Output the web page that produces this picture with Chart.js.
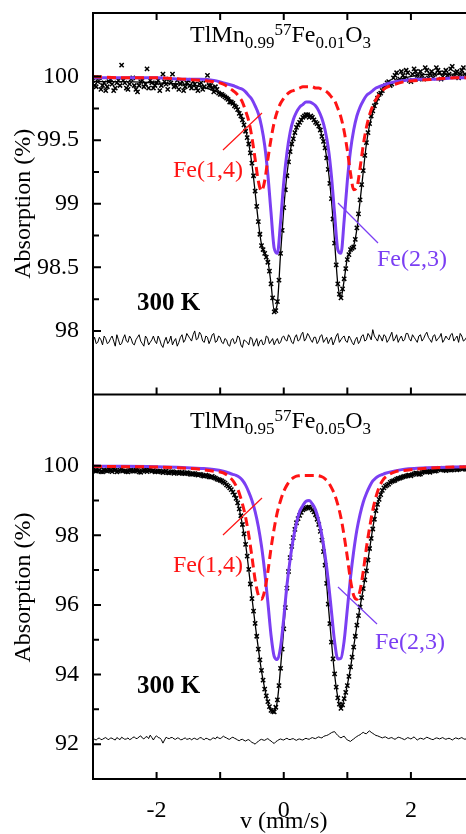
<!DOCTYPE html>
<html>
<head>
<meta charset="utf-8">
<title>TlMn1-x 57Fex O3 Mossbauer spectra</title>
<script src="https://cdn.jsdelivr.net/npm/chart.js@4.4.1/dist/chart.umd.min.js"></script>
<style>
  html, body { margin: 0; padding: 0; background: #fff; overflow: hidden; }
  #wrap { position: relative; width: 466px; height: 834px; overflow: hidden; }
  canvas { position: absolute; left: 0; }
  #topChart { top: 0; }
  #bottomChart { top: 390px; }
</style>
</head>
<body>
<div id="wrap">
  <canvas id="topChart" width="480" height="400"></canvas>
  <canvas id="bottomChart" width="480" height="444"></canvas>
</div>
<script>
// velocity channels (mm/s): main channels and the in-between ones
const channelV = [-3,-2.95,-2.9,-2.85,-2.8,-2.75,-2.7,-2.65,-2.6,-2.55,-2.5,-2.45,-2.4,-2.35,-2.3,-2.25,-2.2,-2.15,-2.1,-2.05,
  -2,-1.95,-1.9,-1.85,-1.8,-1.75,-1.7,-1.65,-1.6,-1.55,-1.5,-1.45,-1.4,-1.35,-1.3,-1.25,-1.2,-1.15,-1.1,-1.05,
  -1,-0.95,-0.9,-0.85,-0.8,-0.75,-0.7,-0.65,-0.6,-0.55,-0.5,-0.45,-0.4,-0.35,-0.3,-0.25,-0.2,-0.15,-0.1,-0.05,
  0,0.05,0.1,0.15,0.2,0.25,0.3,0.35,0.4,0.45,0.5,0.55,0.6,0.65,0.7,0.75,0.8,0.85,0.9,0.95,
  1,1.05,1.1,1.15,1.2,1.25,1.3,1.35,1.4,1.45,1.5,1.55,1.6,1.65,1.7,1.75,1.8,1.85,1.9,1.95,
  2,2.05,2.1,2.15,2.2,2.25,2.3,2.35,2.4,2.45,2.5,2.55,2.6,2.65,2.7,2.75,2.8,2.85,2.9,2.95,
  3];
const channelV2 = [-2.975,-2.925,-2.875,-2.825,-2.775,-2.725,-2.675,-2.625,-2.575,-2.525,-2.475,-2.425,-2.375,-2.325,-2.275,-2.225,-2.175,-2.125,-2.075,-2.025,
  -1.975,-1.925,-1.875,-1.825,-1.775,-1.725,-1.675,-1.625,-1.575,-1.525,-1.475,-1.425,-1.375,-1.325,-1.275,-1.225,-1.175,-1.125,-1.075,-1.025,
  -0.975,-0.925,-0.875,-0.825,-0.775,-0.725,-0.675,-0.625,-0.575,-0.525,-0.475,-0.425,-0.375,-0.325,-0.275,-0.225,-0.175,-0.125,-0.075,-0.025,
  0.025,0.075,0.125,0.175,0.225,0.275,0.325,0.375,0.425,0.475,0.525,0.575,0.625,0.675,0.725,0.775,0.825,0.875,0.925,0.975,
  1.025,1.075,1.125,1.175,1.225,1.275,1.325,1.375,1.425,1.475,1.525,1.575,1.625,1.675,1.725,1.775,1.825,1.875,1.925,1.975,
  2.025,2.075,2.125,2.175,2.225,2.275,2.325,2.375,2.425,2.475,2.525,2.575,2.625,2.675,2.725,2.775,2.825,2.875,2.925,2.975];

// velocities where the fitted curves were read
const curveV = [-3,-2.5,-2,-1.6,-1.3,-1.1,-0.95,
  -0.8,-0.75,-0.7,-0.65,-0.6,-0.55,-0.5,-0.45,-0.4,-0.35,-0.3,-0.25,-0.2,-0.15,-0.1,-0.05,
  0,0.05,0.1,0.15,0.2,0.25,0.3,0.35,0.4,0.45,0.5,0.55,0.6,0.65,0.7,0.75,0.8,0.85,0.9,0.95,
  1,1.05,1.1,1.15,1.2,1.25,1.3,1.35,1.4,1.45,1.5,1.55,1.6,
  1.75,1.9,2.1,2.4,2.7,3];

// ---- x = 0.01 (top panel) ----
const topData = [99.97,99.92,99.99,99.93,99.89,99.96,99.94,99.91,99.97,100.09,99.95,99.90,99.98,99.93,99.88,99.96,99.92,100.06,99.97,99.91,
  99.95,99.89,100.02,99.94,99.98,100.02,99.93,99.90,99.96,99.92,99.97,99.91,99.94,99.89,99.95,99.92,100.01,99.93,99.88,99.90,
  99.86,99.85,99.83,99.80,99.79,99.76,99.71,99.66,99.57,99.47,99.32,99.10,98.86,98.67,98.61,98.54,98.37,98.15,98.23,98.61,
  98.97,99.22,99.41,99.51,99.60,99.64,99.68,99.70,99.68,99.68,99.64,99.61,99.53,99.44,99.27,99.04,98.69,98.37,98.26,98.41,
  98.56,98.64,98.66,98.81,99.03,99.26,99.48,99.63,99.73,99.80,99.86,99.89,99.93,99.96,99.94,100.01,99.97,100.04,99.99,100.03,
  99.96,100.06,100.01,100.04,99.98,100.05,100.02,99.99,100.07,100.03,100.00,100.05,100.02,100.08,100.03,99.99,100.05,100.02,100.06,100.01,
  100.04];
const topData2 = [99.93,99.96,99.90,99.95,99.92,99.98,99.89,99.95,99.93,99.97,99.91,99.94,99.99,99.90,99.93,99.97,99.94,99.91,99.95,99.93,
  99.97,99.93,99.96,99.90,99.95,99.92,99.97,99.94,99.89,99.95,99.93,99.96,99.91,99.94,99.90,99.97,99.93,99.91,99.92,99.87,
  99.86,99.84,99.82,99.80,99.77,99.74,99.69,99.62,99.52,99.40,99.22,98.98,98.76,98.64,98.58,98.47,98.26,98.16,98.40,98.79,
  99.11,99.33,99.47,99.56,99.62,99.66,99.69,99.70,99.69,99.66,99.63,99.58,99.49,99.36,99.16,98.88,98.52,98.29,98.33,98.49,
  98.60,98.65,98.72,98.92,99.15,99.38,99.56,99.69,99.77,99.83,99.87,99.92,99.95,99.93,99.99,100.03,99.98,100.01,100.05,99.97,
  100.02,100.04,99.98,100.01,100.07,99.99,100.04,100.02,100.05,99.98,100.03,100.01,100.06,100.00,100.04,100.02,100.07,100.01,100.03,100.05];
const topResidual = [97.92,97.90,97.95,97.89,97.94,97.91,97.96,97.88,97.93,97.90,97.97,97.91,97.94,97.89,97.95,97.92,97.88,97.94,97.91,97.96,
  97.90,97.93,97.87,97.95,97.92,97.89,97.94,97.91,97.97,97.93,97.96,97.92,98.00,97.94,97.97,97.91,97.95,97.93,97.98,97.92,
  97.95,97.90,97.93,97.88,97.94,97.91,97.95,97.87,97.92,97.89,97.94,97.91,97.88,97.93,97.90,97.95,97.92,97.89,97.94,97.91,
  97.96,97.92,97.95,97.90,97.97,97.93,97.99,97.94,97.96,97.91,97.95,97.92,97.97,97.93,97.90,97.95,97.92,97.98,97.93,97.96,
  97.91,97.94,97.89,97.95,97.92,97.97,97.93,97.96,98.01,97.94,97.97,97.92,97.96,97.93,97.99,97.94,97.91,97.96,97.93,97.98,
  97.92,97.95,97.91,97.97,97.94,97.99,97.93,97.96,97.92,97.95,97.91,97.96,97.93,97.98,97.94,97.91,97.96,97.93,97.97,97.94,
  97.95];
const topResidual2 = [97.95,97.91,97.93,97.96,97.90,97.94,97.92,97.97,97.89,97.94,97.92,97.96,97.90,97.93,97.97,97.90,97.96,97.89,97.93,97.92,
  97.96,97.89,97.92,97.90,97.96,97.92,97.88,97.95,97.91,97.98,97.94,97.97,97.93,97.99,97.92,97.96,97.90,97.97,97.91,97.96,
  97.91,97.94,97.89,97.93,97.90,97.96,97.89,97.93,97.91,97.95,97.88,97.94,97.92,97.89,97.96,97.90,97.94,97.92,97.90,97.95,
  97.93,97.97,97.91,97.95,97.92,97.97,97.92,97.98,97.93,97.95,97.90,97.96,97.91,97.95,97.93,97.89,97.96,97.91,97.95,97.92,
  97.96,97.91,97.93,97.90,97.96,97.92,97.98,97.93,97.96,97.92,97.95,97.97,97.91,97.96,97.92,97.97,97.94,97.92,97.98,97.94,
  97.97,97.93,97.96,97.92,97.97,97.95,97.91,97.97,97.94,97.98,97.93,97.94,97.97,97.92,97.96,97.98,97.92,97.95,97.93,97.96];
const topFit = [99.96,99.96,99.95,99.94,99.92,99.89,99.86,
  99.80,99.77,99.72,99.66,99.58,99.47,99.31,99.09,98.86,98.68,98.61,98.55,98.37,98.16,98.22,98.61,
  98.96,99.23,99.41,99.52,99.59,99.64,99.67,99.69,99.69,99.68,99.65,99.61,99.54,99.44,99.27,99.03,98.70,98.37,98.26,98.40,
  98.57,98.63,98.67,98.80,99.02,99.25,99.47,99.62,99.72,99.79,99.84,99.88,99.91,
  99.96,99.99,100.01,100.02,100.02,100.02];
const topFe23 = [99.99,99.99,99.99,99.98,99.98,99.97,99.95,
  99.93,99.92,99.91,99.90,99.88,99.85,99.82,99.77,99.71,99.61,99.46,99.23,98.93,98.65,98.61,98.86,
  99.17,99.40,99.56,99.66,99.72,99.76,99.78,99.80,99.80,99.79,99.77,99.73,99.67,99.58,99.44,99.22,98.92,98.64,98.61,98.87,
  99.18,99.42,99.58,99.69,99.76,99.81,99.85,99.87,99.89,99.91,99.92,99.93,99.94,
  99.96,99.97,99.98,99.98,99.99,99.99];
const topFe14 = [100.00,99.99,99.99,99.98,99.97,99.96,99.94,
  99.89,99.87,99.84,99.80,99.73,99.65,99.52,99.35,99.18,99.10,99.18,99.35,99.51,99.64,99.73,99.79,
  99.83,99.86,99.88,99.89,99.90,99.91,99.92,99.92,99.92,99.92,99.91,99.91,99.90,99.89,99.87,99.84,99.81,99.75,99.68,99.57,
  99.42,99.24,99.11,99.13,99.28,99.46,99.60,99.70,99.77,99.82,99.86,99.89,99.91,
  99.94,99.96,99.97,99.98,99.99,99.99];

// ---- x = 0.05 (bottom panel) ----
const botData = [99.88,99.84,99.87,99.82,99.86,99.89,99.83,99.87,99.84,99.90,99.85,99.82,99.88,99.84,99.86,99.81,99.87,99.83,99.92,99.86,
  99.83,99.85,99.80,99.84,99.79,99.83,99.80,99.78,99.81,99.77,99.79,99.75,99.77,99.73,99.74,99.70,99.71,99.67,99.66,99.61,
  99.58,99.53,99.45,99.36,99.24,99.06,98.76,98.31,97.74,97.02,96.18,95.47,94.73,94.12,93.58,93.22,92.97,92.93,93.27,94.18,
  95.31,96.48,97.36,97.93,98.36,98.57,98.73,98.78,98.81,98.73,98.59,98.31,97.86,97.14,96.02,94.93,94.02,93.33,93.03,93.31,
  93.68,94.22,94.79,95.42,95.94,96.47,96.98,97.62,98.18,98.71,99.03,99.29,99.41,99.47,99.55,99.58,99.63,99.66,99.69,99.72,
  99.71,99.76,99.78,99.76,99.82,99.84,99.81,99.86,99.85,99.92,99.88,99.86,99.90,99.88,99.91,99.89,99.93,99.90,99.92,99.94,
  99.92];
const botData2 = [99.86,99.85,99.83,99.88,99.84,99.86,99.89,99.82,99.87,99.85,99.83,99.86,99.84,99.88,99.82,99.85,99.86,99.89,99.84,99.82,
  99.84,99.82,99.83,99.80,99.82,99.78,99.81,99.79,99.78,99.80,99.76,99.77,99.74,99.75,99.71,99.73,99.68,99.69,99.64,99.60,
  99.56,99.50,99.41,99.31,99.16,98.93,98.56,98.04,97.40,96.60,95.82,95.10,94.42,93.84,93.39,93.08,92.94,93.06,93.68,94.73,
  95.92,96.96,97.68,98.17,98.48,98.66,98.76,98.80,98.78,98.67,98.46,98.11,97.53,96.62,95.46,94.45,93.64,93.15,93.13,93.49,
  93.95,94.50,95.10,95.69,96.21,96.72,97.29,97.91,98.46,98.89,99.17,99.36,99.44,99.52,99.56,99.61,99.64,99.68,99.70,99.73,
  99.74,99.79,99.75,99.80,99.83,99.82,99.85,99.84,99.88,99.90,99.87,99.89,99.87,99.92,99.88,99.91,99.92,99.89,99.93,99.91];
const botResidual = [92.16,92.12,92.18,92.14,92.19,92.13,92.17,92.12,92.16,92.20,92.14,92.18,92.15,92.21,92.17,92.24,92.15,92.22,92.26,92.12,
  92.24,92.18,92.03,92.20,92.16,92.19,92.14,92.17,92.13,92.18,92.15,92.12,92.17,92.14,92.19,92.13,92.16,92.12,92.18,92.21,
  92.16,92.23,92.18,92.14,92.20,92.15,92.10,92.14,92.09,92.13,92.05,92.00,92.08,92.14,92.11,92.16,92.09,92.02,92.10,92.15,
  92.12,92.17,92.13,92.16,92.11,92.15,92.12,92.17,92.14,92.19,92.16,92.21,92.18,92.24,92.27,92.33,92.36,92.25,92.18,92.23,
  92.12,92.08,92.15,92.22,92.27,92.34,92.30,92.38,92.31,92.25,92.22,92.18,92.21,92.16,92.19,92.14,92.20,92.17,92.13,92.19,
  92.15,92.21,92.12,92.17,92.14,92.20,92.16,92.13,92.18,92.15,92.19,92.14,92.17,92.12,92.18,92.15,92.19,92.14,92.17,92.13,
  92.16];
const botResidual2 = [92.14,92.16,92.13,92.17,92.15,92.18,92.14,92.19,92.13,92.17,92.15,92.13,92.19,92.16,92.21,92.18,92.20,92.16,92.19,92.20,
  92.19,92.13,92.12,92.17,92.19,92.15,92.18,92.13,92.16,92.14,92.17,92.16,92.14,92.18,92.15,92.17,92.13,92.17,92.15,92.18,
  92.19,92.20,92.15,92.18,92.17,92.12,92.13,92.11,92.12,92.09,92.03,92.05,92.12,92.12,92.14,92.12,92.05,92.07,92.13,92.13,
  92.15,92.14,92.15,92.13,92.14,92.13,92.15,92.15,92.17,92.17,92.19,92.19,92.22,92.25,92.30,92.35,92.30,92.21,92.21,92.17,
  92.10,92.12,92.19,92.25,92.31,92.31,92.35,92.34,92.28,92.24,92.20,92.20,92.18,92.18,92.16,92.17,92.19,92.15,92.16,92.17,
  92.18,92.16,92.15,92.16,92.17,92.18,92.14,92.16,92.17,92.17,92.16,92.16,92.15,92.15,92.17,92.17,92.16,92.16,92.15,92.15];
const botFit = [99.86,99.85,99.83,99.80,99.74,99.66,99.54,
  99.25,99.05,98.75,98.30,97.75,97.00,96.20,95.45,94.75,94.10,93.60,93.20,92.98,92.95,93.25,94.20,
  95.30,96.50,97.35,97.95,98.35,98.58,98.72,98.79,98.80,98.74,98.58,98.32,97.85,97.15,96.00,94.95,94.00,93.35,93.05,93.30,
  93.70,94.20,94.80,95.40,95.95,96.45,97.00,97.60,98.20,98.70,99.05,99.28,99.42,
  99.60,99.70,99.78,99.86,99.90,99.93];
const botFe23 = [99.98,99.98,99.97,99.95,99.92,99.89,99.84,
  99.75,99.72,99.67,99.58,99.44,99.24,99.00,98.68,98.25,97.69,96.96,96.08,95.13,94.52,94.43,94.79,
  95.62,96.56,97.30,97.90,98.34,98.68,98.85,98.98,99.00,98.90,98.73,98.42,98.00,97.43,96.70,95.82,94.94,94.45,94.47,94.97,
  95.88,96.79,97.54,98.15,98.60,98.95,99.20,99.40,99.56,99.65,99.71,99.745,99.78,
  99.85,99.90,99.925,99.95,99.96,99.97];
const botFe14 = [99.98,99.97,99.96,99.93,99.89,99.84,99.79,
  99.57,99.42,99.21,98.90,98.52,98.00,97.38,96.72,96.28,96.16,96.41,96.95,97.63,98.20,98.67,99.00,
  99.26,99.44,99.57,99.65,99.70,99.71,99.72,99.72,99.72,99.72,99.72,99.71,99.68,99.62,99.52,99.37,99.17,98.88,98.50,97.98,
  97.37,96.71,96.27,96.16,96.42,96.96,97.64,98.22,98.72,99.10,99.38,99.56,99.67,
  99.82,99.86,99.90,99.94,99.96,99.97];

// ticks
const xTicks = [-2, -1, 0, 1, 2, 3];
const xTickLabels = [-2, 0, 2];
const topYTickLabels = [98, 98.5, 99, 99.5, 100];
const topYMinor = [98.25, 98.75, 99.25, 99.75];
const botYTickLabels = [92, 94, 96, 98, 100];
const botYMinor = [93, 95, 97, 99];

const SERIF = "'Liberation Serif', 'Times New Roman', serif";
const RED = '#ff1414';
const PURPLE = '#7b3ff3';

Chart.defaults.font.family = SERIF;
Chart.defaults.color = '#000';

function pts(xs, ys) {
  return xs.map((x, i) => ({ x, y: ys[i] }));
}

// main + in-between channels, in velocity order
function interleave(ys, ys2) {
  const out = [];
  channelV.forEach((x, i) => {
    out.push({ x, y: ys[i] });
    if (i < channelV2.length) out.push({ x: channelV2[i], y: ys2[i] });
  });
  return out;
}

function panelDatasets(s) {
  return [
    { label: 'Fe(1,4)', data: pts(curveV, s.fe14), showLine: true, borderColor: RED, borderWidth: 3,
      borderDash: [9, 5], pointRadius: 0, cubicInterpolationMode: 'monotone', order: 0 },
    { label: 'Fe(2,3)', data: pts(curveV, s.fe23), showLine: true, borderColor: PURPLE, borderWidth: 3,
      pointRadius: 0, cubicInterpolationMode: 'monotone', order: 1 },
    { label: 'fit', data: pts(curveV, s.fit), showLine: true, borderColor: '#000', borderWidth: 1.3,
      pointRadius: 0, cubicInterpolationMode: 'monotone', order: 2 },
    { label: 'data', data: interleave(s.data, s.data2), showLine: false, pointStyle: 'crossRot', pointRadius: 3,
      pointBorderWidth: 1.5, pointBorderColor: '#000', pointBackgroundColor: '#000', order: 3 },
    { label: 'residual', data: interleave(s.resid, s.resid2), showLine: true, borderColor: '#000', borderWidth: 1,
      pointRadius: 0, tension: 0, order: 4 }
  ];
}

// chemical formula with sub/superscripts
function drawChem(ctx, x, y, parts) {
  parts.forEach(([txt, kind]) => {
    ctx.font = (kind === 'n' ? '24px ' : '17px ') + SERIF;
    const dy = kind === 'sub' ? 6 : kind === 'sup' ? -7 : 0;
    ctx.fillText(txt, x, y + dy);
    x += ctx.measureText(txt).width;
  });
}

// frame, inward ticks and panel labels
const panelDecor = {
  id: 'panelDecor',
  afterDraw(chart, args, o) {
    const { ctx, chartArea: a, scales: { x, y } } = chart;
    ctx.save();
    ctx.strokeStyle = '#000';
    ctx.lineWidth = 2;
    ctx.beginPath();
    ctx.moveTo(a.left, a.top - 1); ctx.lineTo(a.left, a.bottom + 1);
    if (o.frameTop) { ctx.moveTo(a.left, a.top); ctx.lineTo(a.right, a.top); }
    ctx.moveTo(a.left, a.bottom); ctx.lineTo(a.right, a.bottom);
    ctx.moveTo(a.right, a.top); ctx.lineTo(a.right, a.bottom);
    xTicks.forEach(v => {
      const px = x.getPixelForValue(v);
      if (o.ticksTop) { ctx.moveTo(px, a.top); ctx.lineTo(px, a.top + 7); }
      ctx.moveTo(px, a.bottom); ctx.lineTo(px, a.bottom - 7);
    });
    o.yMajor.forEach(v => {
      const py = y.getPixelForValue(v);
      ctx.moveTo(a.left, py); ctx.lineTo(a.left + 8, py);
    });
    o.yMinor.forEach(v => {
      const py = y.getPixelForValue(v);
      ctx.moveTo(a.left, py); ctx.lineTo(a.left + 6, py);
    });
    ctx.stroke();

    ctx.textBaseline = 'alphabetic';
    ctx.textAlign = 'left';
    ctx.fillStyle = '#000';
    drawChem(ctx, o.title.x, o.title.y, o.title.parts);

    ctx.font = 'bold 25px ' + SERIF;
    ctx.fillText('300 K', o.temp.x, o.temp.y);

    ctx.font = '24px ' + SERIF;
    ctx.fillStyle = RED;
    ctx.fillText('Fe(1,4)', o.fe14.x, o.fe14.y);
    ctx.fillStyle = PURPLE;
    ctx.fillText('Fe(2,3)', o.fe23.x, o.fe23.y);

    ctx.lineWidth = 1.2;
    ctx.strokeStyle = RED;
    ctx.beginPath();
    ctx.moveTo(o.fe14.line[0], o.fe14.line[1]); ctx.lineTo(o.fe14.line[2], o.fe14.line[3]);
    ctx.stroke();
    ctx.strokeStyle = PURPLE;
    ctx.beginPath();
    ctx.moveTo(o.fe23.line[0], o.fe23.line[1]); ctx.lineTo(o.fe23.line[2], o.fe23.line[3]);
    ctx.stroke();
    ctx.restore();
  }
};

function yAxis(min, max, step, labels) {
  return {
    min, max,
    afterFit: s => { s.width = 93; s.paddingTop = 0; s.paddingBottom = 0; },
    grid: { display: false },
    border: { display: false },
    ticks: {
      stepSize: step,
      padding: 6,
      autoSkip: false,
      font: { size: 24 },
      callback: v => labels.includes(v) ? String(v) : ''
    },
    title: {
      display: true,
      text: 'Absorption (%)',
      font: { size: 24 },
      padding: { top: 9, bottom: 0 }
    }
  };
}

// top panel: TlMn0.99 57Fe0.01 O3
new Chart(document.getElementById('topChart'), {
  type: 'scatter',
  data: { datasets: panelDatasets({ data: topData, data2: topData2, resid: topResidual, resid2: topResidual2, fit: topFit, fe23: topFe23, fe14: topFe14 }) },
  options: {
    responsive: false,
    animation: false,
    devicePixelRatio: 1,
    layout: { padding: { top: 13, right: 3, bottom: 4, left: 0 } },
    plugins: {
      legend: { display: false },
      tooltip: { enabled: false },
      panelDecor: {
        frameTop: true,
        ticksTop: true,
        yMajor: topYTickLabels,
        yMinor: topYMinor,
        title: { x: 190, y: 42, parts: [['TlMn', 'n'], ['0.99', 'sub'], ['57', 'sup'], ['Fe', 'n'], ['0.01', 'sub'], ['O', 'n'], ['3', 'sub']] },
        temp: { x: 137, y: 310 },
        fe14: { x: 173, y: 177, line: [223, 150, 262, 113] },
        fe23: { x: 377, y: 266, line: [338, 203, 378, 243] }
      }
    },
    scales: {
      x: { type: 'linear', min: -3, max: 3, display: false },
      y: yAxis(97.5, 100.5, 0.5, topYTickLabels)
    }
  },
  plugins: [panelDecor]
});

// bottom panel: TlMn0.95 57Fe0.05 O3
new Chart(document.getElementById('bottomChart'), {
  type: 'scatter',
  data: { datasets: panelDatasets({ data: botData, data2: botData2, resid: botResidual, resid2: botResidual2, fit: botFit, fe23: botFe23, fe14: botFe14 }) },
  options: {
    responsive: false,
    animation: false,
    devicePixelRatio: 1,
    layout: { padding: { top: 6, right: 3, bottom: 0, left: 0 } },
    plugins: {
      legend: { display: false },
      tooltip: { enabled: false },
      panelDecor: {
        frameTop: false,
        ticksTop: false,
        yMajor: botYTickLabels,
        yMinor: botYMinor,
        title: { x: 190, y: 38, parts: [['TlMn', 'n'], ['0.95', 'sub'], ['57', 'sup'], ['Fe', 'n'], ['0.05', 'sub'], ['O', 'n'], ['3', 'sub']] },
        temp: { x: 137, y: 303 },
        fe14: { x: 173, y: 182, line: [223, 145, 262, 108] },
        fe23: { x: 375, y: 259, line: [338, 197, 377, 234] }
      }
    },
    scales: {
      x: {
        type: 'linear', min: -3, max: 3,
        afterFit: s => { s.height = 55; s.paddingLeft = 0; s.paddingRight = 0; },
        grid: { display: false },
        border: { display: false },
        ticks: {
          stepSize: 1,
          padding: 9,
          autoSkip: false,
          maxRotation: 0,
          font: { size: 24 },
          callback: v => xTickLabels.includes(v) ? String(v) : ''
        },
        title: {
          display: true,
          text: 'v (mm/s)',
          font: { size: 24, lineHeight: 1 },
          padding: { top: 0, bottom: 0 }
        }
      },
      y: yAxis(91, 102, 1, botYTickLabels)
    }
  },
  plugins: [panelDecor]
});
</script>
</body>
</html>
